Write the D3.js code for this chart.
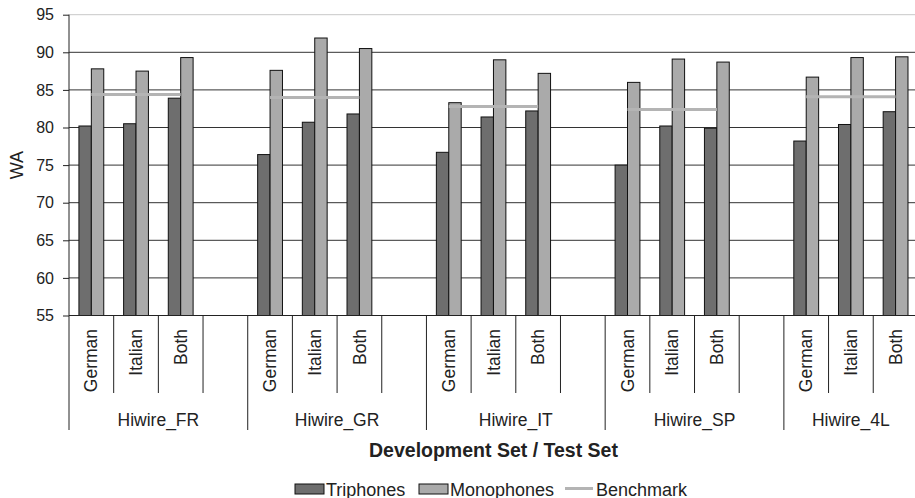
<!DOCTYPE html>
<html>
<head>
<meta charset="utf-8">
<script src="https://cdn.jsdelivr.net/npm/d3@7"></script>
<style>
  body { margin: 0; background: #fff; }
  svg { display: block; font-family: "Liberation Sans", Arial, sans-serif; }
  text { fill: #222; }
</style>
</head>
<body>
<svg id="chart" width="915" height="498"></svg>
<script>
// values
const groups = ["Hiwire_FR", "Hiwire_GR", "Hiwire_IT", "Hiwire_SP", "Hiwire_4L"];
const subsets = ["German", "Italian", "Both"];
const triphones = [80.2, 80.5, 83.9, 76.4, 80.7, 81.8, 76.7, 81.4, 82.2, 75.0, 80.2, 79.9, 78.2, 80.4, 82.1];
const monophones = [87.8, 87.5, 89.3, 87.6, 91.9, 90.5, 83.3, 89.0, 87.2, 86.0, 89.1, 88.7, 86.7, 89.3, 89.4];
const benchmark = [84.4, 84.0, 82.8, 82.4, 84.1];
const yTicks = [55, 60, 65, 70, 75, 80, 85, 90, 95];

const series = ["Triphones", "Monophones"];
const colors = { Triphones: "#6e6e6e", Monophones: "#aaaaaa", Benchmark: "#b4b4b4" };

// slots: 3 subsets per group plus an empty spacer (none after the last group)
const slots = [];
groups.forEach((g, gi) => {
    subsets.forEach(s => slots.push({ key: g + "|" + s, group: g, subset: s }));
    if (gi < groups.length - 1) slots.push({ key: g + "|gap", group: g, subset: null });
});

const rows = [];
groups.forEach((g, gi) => subsets.forEach((s, si) => {
    const i = gi * subsets.length + si;
    rows.push({ key: g + "|" + s, group: g, subset: s, Triphones: triphones[i], Monophones: monophones[i] });
}));

const svg = d3.select("#chart");
const plotLeft = 69, plotTop = 14.7, plotBottom = 315.5;
const slotW = 44.68;
const plotRight = plotLeft + slotW * slots.length;

const x0 = d3.scaleBand().domain(slots.map(d => d.key)).range([plotLeft, plotRight]);
const x1 = d3.scaleBand().domain(series).range([0, x0.bandwidth()]).paddingOuter(0.8);
const y = d3.scaleLinear().domain([55, 95]).range([plotBottom, plotTop]);

// gridlines
svg.append("g").selectAll("line").data(yTicks.slice(1)).enter()
    .append("line")
    .attr("x1", plotLeft).attr("x2", plotRight)
    .attr("y1", d => y(d)).attr("y2", d => y(d))
    .attr("stroke", d => d === 95 ? "#c8c8c8" : "#333")
    .attr("stroke-width", 1);

// bars
const bar = svg.append("g").selectAll("g").data(rows).enter()
    .append("g").attr("transform", d => `translate(${x0(d.key)},0)`);
bar.selectAll("rect").data(d => series.map(s => ({ s, v: d[s] }))).enter()
    .append("rect")
    .attr("x", d => x1(d.s))
    .attr("width", x1.bandwidth())
    .attr("y", d => y(d.v))
    .attr("height", d => y(55) - y(d.v))
    .attr("fill", d => colors[d.s])
    .attr("stroke", "#111")
    .attr("stroke-width", 1);

// benchmark line per group, across the subset centres
const line = d3.line().x(d => x0(d.key) + x0.bandwidth() / 2).y(d => y(d.v));
groups.forEach((g, gi) => {
    const pts = subsets.map(s => ({ key: g + "|" + s, v: benchmark[gi] }));
    svg.append("path").datum(pts)
        .attr("d", line)
        .attr("fill", "none")
        .attr("stroke", colors.Benchmark)
        .attr("stroke-width", 3);
});

// y axis
const yAxis = svg.append("g").attr("transform", `translate(${plotLeft},0)`)
    .call(d3.axisLeft(y).tickValues(yTicks).tickSize(6).tickPadding(9));
yAxis.select(".domain").attr("stroke", "#222").attr("d", `M0,${plotTop}V${plotBottom}`);
yAxis.selectAll(".tick line").attr("stroke", "#222");
yAxis.selectAll(".tick text").style("font-size", "16px").attr("fill", "#222");
yAxis.attr("font-family", null);

svg.append("text")
    .attr("transform", `translate(23,${(plotTop + plotBottom) / 2}) rotate(-90)`)
    .attr("text-anchor", "middle")
    .style("font-size", "18px")
    .text("WA");

// x axis line
svg.append("line")
    .attr("x1", plotLeft).attr("x2", plotRight)
    .attr("y1", plotBottom).attr("y2", plotBottom)
    .attr("stroke", "#222");

// slot dividers: short inside a group, long at group edges
const edges = slots.map(d => x0(d.key)).concat([plotRight]);
const groupStart = new Set();
let acc = 0;
groups.forEach((g, gi) => {
    groupStart.add(acc);
    acc += subsets.length + (gi < groups.length - 1 ? 1 : 0);
});
groupStart.add(slots.length);
svg.append("g").selectAll("line").data(edges).enter()
    .append("line")
    .attr("x1", d => d).attr("x2", d => d)
    .attr("y1", plotBottom)
    .attr("y2", (d, i) => groupStart.has(i) ? 430 : 393)
    .attr("stroke", "#222");

// subset labels
svg.append("g").selectAll("text").data(slots.filter(d => d.subset)).enter()
    .append("text")
    .attr("transform", d => `translate(${x0(d.key) + x0.bandwidth() / 2},329) rotate(-90)`)
    .attr("text-anchor", "end")
    .attr("dy", "0.35em")
    .style("font-size", "17.5px")
    .text(d => d.subset);

// group labels
svg.append("g").selectAll("text").data(groups).enter()
    .append("text")
    .attr("x", g => {
        const ks = slots.filter(d => d.group === g);
        return (x0(ks[0].key) + x0(ks[ks.length - 1].key) + x0.bandwidth()) / 2;
    })
    .attr("y", 426)
    .attr("text-anchor", "middle")
    .style("font-size", "17.5px")
    .text(g => g);

// axis title
svg.append("text")
    .attr("x", (plotLeft + plotRight) / 2).attr("y", 456.5)
    .attr("text-anchor", "middle")
    .style("font-size", "19.5px")
    .style("font-weight", "bold")
    .text("Development Set / Test Set");

// legend
const legend = svg.append("g");
const legendItems = [
    { name: "Triphones", x: 295, type: "rect" },
    { name: "Monophones", x: 419, type: "rect" },
    { name: "Benchmark", x: 565, type: "line" }
];
legendItems.forEach(it => {
    if (it.type === "rect") {
        legend.append("rect")
            .attr("x", it.x).attr("y", 484).attr("width", 29).attr("height", 10)
            .attr("fill", colors[it.name]).attr("stroke", "#111");
    } else {
        legend.append("line")
            .attr("x1", it.x).attr("x2", it.x + 28).attr("y1", 488.5).attr("y2", 488.5)
            .attr("stroke", colors.Benchmark).attr("stroke-width", 3);
    }
    legend.append("text")
        .attr("x", it.x + 31).attr("y", 495.5)
        .style("font-size", "18px")
        .text(it.name);
});
</script>
</body>
</html>
